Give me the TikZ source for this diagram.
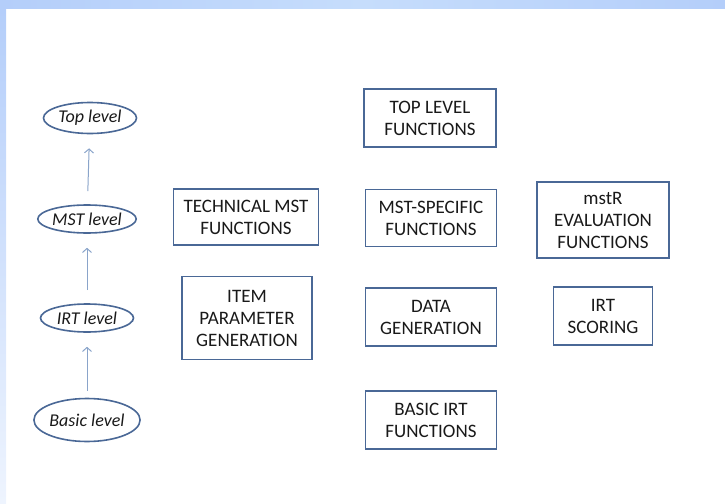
\documentclass[tikz,border=0pt]{standalone}
\usepackage{fontspec}
\setmainfont{Carlito}
\usepackage{tikz}
\usetikzlibrary{shapes.geometric,arrows.meta}
\definecolor{boxblue}{HTML}{4A6896}
\definecolor{arrblue}{HTML}{8AA4CA}
\definecolor{bandtop}{HTML}{B4CEFA}
\definecolor{bandmid}{HTML}{C6DDFC}
\definecolor{bandlow}{HTML}{EEF4FE}
\def\funnode{\node[funbox]}
\def\levnode{\node[levbox]}

\begin{document}
\begin{tikzpicture}[x=1pt,y=-1pt,
    funbox/.style={draw=boxblue,line width=1.8pt,align=center,inner sep=0pt,
        text=black!90,font=\fontsize{19}{22}\selectfont},
    levbox/.style={draw=boxblue,ellipse,line width=1.6pt,inner sep=0pt,
        minimum width=93pt,text=black!90,font=\fontsize{18}{20}\selectfont\itshape},
    up/.style={-{Straight Barb[length=4pt,width=9pt]},draw=arrblue,line width=1pt,
        shorten >=14pt,shorten <=13pt}]
    \useasboundingbox (0,0) rectangle (725,503);
    % slide frame
    \shade[left color=bandtop,right color=bandtop,middle color=bandmid] (0,0) rectangle (725,9);
    \shade[top color=bandtop,bottom color=bandlow] (0,9) rectangle (6,503);
    % levels
    \levnode[minimum height=31pt] (top) at (90,118) {Top level};
    \levnode[minimum height=28pt] (mst) at (87,219) {MST level};
    \levnode[minimum height=28pt] (irt) at (87,318) {IRT level};
    \levnode[minimum width=100pt,minimum height=43pt] (bas) at (87,420) {Basic level};
    \draw[up] (mst) -- (top);
    \draw[up] (irt) -- (mst);
    \draw[up,shorten <=7pt] (bas) -- (irt);
    % functions
    \funnode[minimum width=132pt,minimum height=58pt] (toplev) at (430,118) {TOP LEVEL\\FUNCTIONS};
    \funnode[minimum width=145pt,minimum height=56pt] (tech) at (246,217) {TECHNICAL MST\\FUNCTIONS};
    \funnode[minimum width=131pt,minimum height=57pt] (mstspec) at (431,218) {MST-SPECIFIC\\FUNCTIONS};
    \funnode[minimum width=132pt,minimum height=76pt] (eval) at (603,220) {mstR\\EVALUATION\\FUNCTIONS};
    \funnode[minimum width=130pt,minimum height=83pt] (itempar) at (247,318) {ITEM\\PARAMETER\\GENERATION};
    \funnode[minimum width=131pt,minimum height=58pt] (datagen) at (431,317) {DATA\\GENERATION};
    \funnode[minimum width=99pt,minimum height=58pt] (score) at (603,316) {IRT\\SCORING};
    \funnode[minimum width=131pt,minimum height=58pt] (basirt) at (431,420) {BASIC IRT\\FUNCTIONS};
\end{tikzpicture}
\end{document}
